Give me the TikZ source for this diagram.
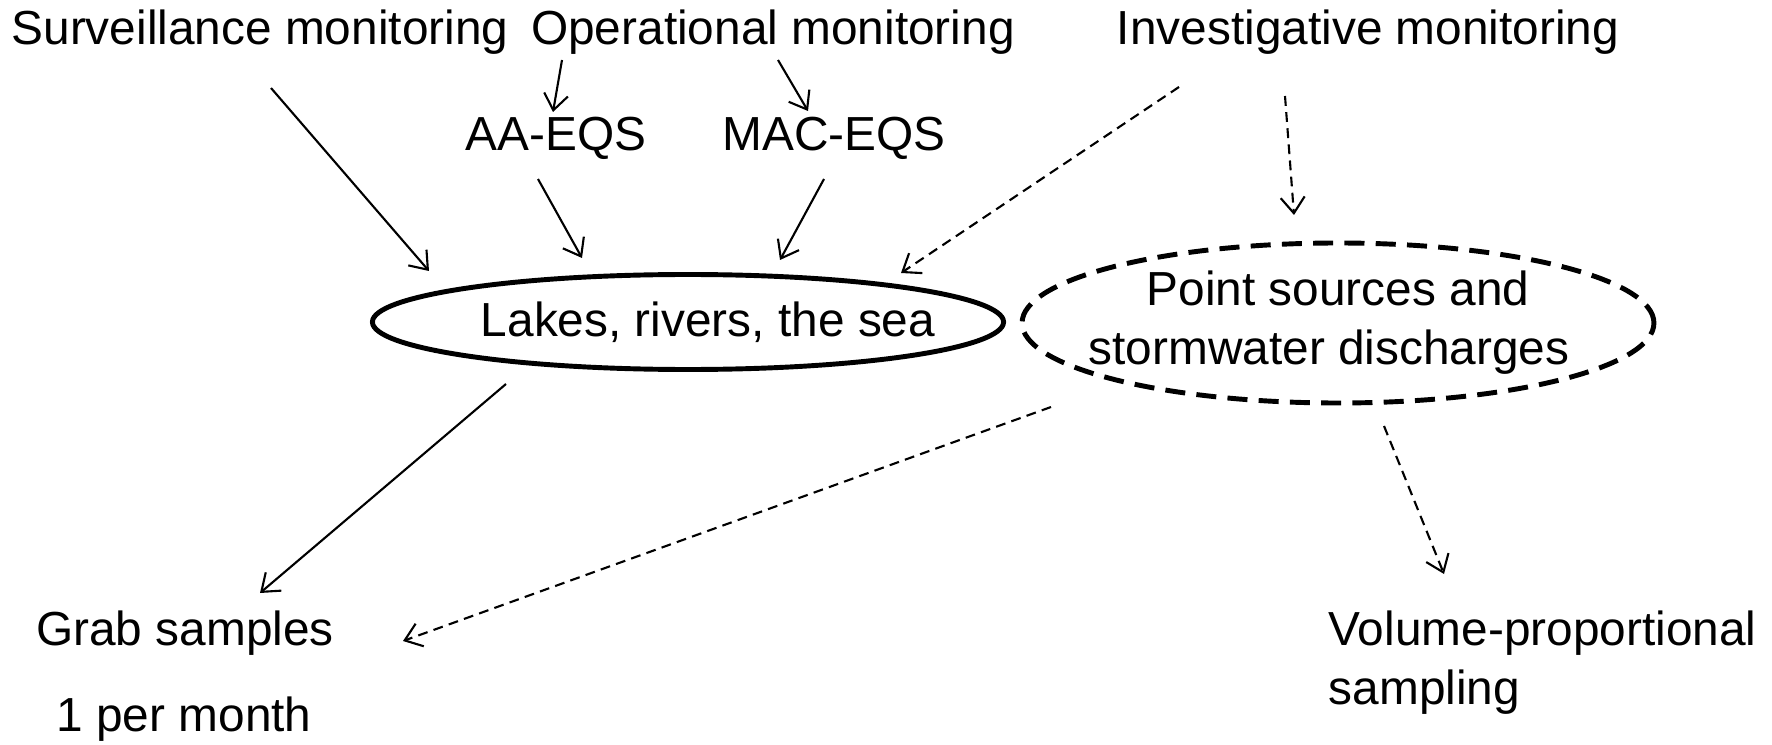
\documentclass[tikz,border=0pt]{standalone}
\usepackage{fontspec}
\setmainfont{Liberation Sans}
\usetikzlibrary{arrows.meta,calc,shapes.geometric}

\begin{document}
\begin{tikzpicture}[
    every node/.style={font=\fontsize{13.6}{16.8}\selectfont, inner sep=0pt},
    arr/.style={line width=0.6pt, -{Straight Barb[length=1.6mm,width=2.4mm]}},
    darr/.style={arr, dash pattern=on 2.8pt off 1.8pt},
    water/.style={ellipse, draw, line width=1.4pt},
  line join=round]

  \useasboundingbox (0,0) rectangle (17.72,-7.45);

  % Monitoring types
  \node (surv) at (2.60,-0.32) {Surveillance monitoring};
  \node (oper) at (7.73,-0.32) {Operational monitoring};
  \node (inv)  at (13.68,-0.32) {Investigative monitoring};

  % Quality standards
  \node (aa)  at (5.56,-1.38) {AA-EQS};
  \node (mac) at (8.34,-1.38) {MAC-EQS};

  % Water bodies
  \node [water, inner xsep=-0.24cm, minimum height=0.95cm] (lakes)
    at (6.88,-3.22) {\hspace*{0.4cm}Lakes, rivers, the sea};
  \node [water, dash pattern=on 5.7pt off 3.2pt, align=center,
    inner xsep=-0.26cm, minimum height=1.6cm] (point)
    at (13.38,-3.23) {Point sources and\\stormwater discharges\hspace*{0.18cm}};

  % Sampling
  \node (grab)  at (1.85,-6.33) {Grab samples};
  \node (month) at (1.84,-7.19) {1 per month};
  \node [anchor=west, align=left] (vol) at (13.28,-6.625)
    {Volume-proportional\\sampling};

  % Solid arrows
  \draw [arr] ($(surv)+(0.11,-0.56)$) -- ($(lakes)+(-2.59,0.51)$);
  \draw [arr] ($(oper)+(-2.11,-0.28)$) -- ($(aa)+(-0.03,0.26)$);
  \draw [arr] ($(oper)+(0.05,-0.28)$) -- ($(mac)+(-0.26,0.27)$);
  \draw [arr] ($(aa)+(-0.18,-0.41)$) -- ($(lakes)+(-1.06,0.64)$);
  \draw [arr] ($(mac)+(-0.10,-0.41)$) -- ($(lakes)+(0.92,0.62)$);
  \draw [arr] ($(lakes)+(-1.82,-0.62)$) -- ($(grab)+(0.75,0.40)$);

  % Dashed arrows
  \draw [darr] ($(inv)+(-1.89,-0.55)$) -- ($(lakes)+(2.13,0.49)$);
  \draw [darr] ($(inv)+(-0.83,-0.64)$) -- ($(point)+(-0.44,1.08)$);
  \draw [darr] ($(point)+(-2.87,-0.84)$) -- ($(grab)+(2.18,-0.08)$);
  \draw [darr] ($(point)+(0.46,-1.03)$) -- ($(vol.west)+(1.16,0.885)$);

\end{tikzpicture}
\end{document}
